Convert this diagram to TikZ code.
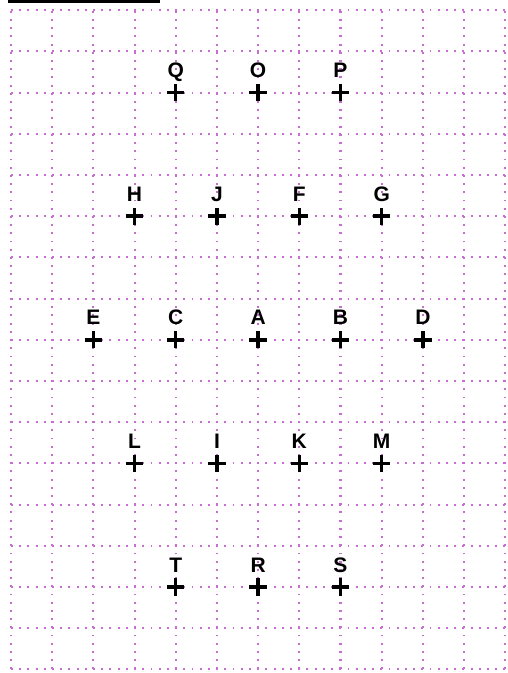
\documentclass[tikz,border=0pt]{standalone}
\usepackage{fontspec}
\setmainfont{Liberation Sans}
\usepackage{tikz}

\definecolor{gridpink}{RGB}{200,110,210}

\begin{document}
\begin{tikzpicture}[
  gridline/.style={gridpink,line width=1.4pt,dash pattern=on 1.3pt off 4.37pt},
  crossline/.style={black,line width=2.4pt},
  letter/.style={anchor=base,inner sep=0pt,font=\fontsize{14.5}{16}\selectfont\bfseries}]
\useasboundingbox (-0.267,-0.09) rectangle (12.063,16.25);
\fill[black] (-0.073,16.177) rectangle (3.62,16.25);
\foreach \i in {0,...,12}
  \draw[gridline] (\i,0) -- (\i,16);
\foreach \j in {0,...,16}
  \draw[gridline] (0,\j) -- (12,\j);
\foreach \name/\x/\y in {Q/4/14,O/6/14,P/8/14,
    H/3/11,J/5/11,F/7/11,G/9/11,
    E/2/8,C/4/8,A/6/8,B/8/8,D/10/8,
    L/3/5,I/5/5,K/7/5,M/9/5,
    T/4/2,R/6/2,S/8/2} {
  \coordinate (\name) at (\x,\y);
  \draw[crossline] ([xshift=-0.21cm]\name) -- ([xshift=0.21cm]\name);
  \draw[crossline] ([yshift=-0.21cm]\name) -- ([yshift=0.21cm]\name);
  \node[letter] (\name-lbl) at ([yshift=0.36cm]\name) {\name};
}
\end{tikzpicture}
\end{document}
